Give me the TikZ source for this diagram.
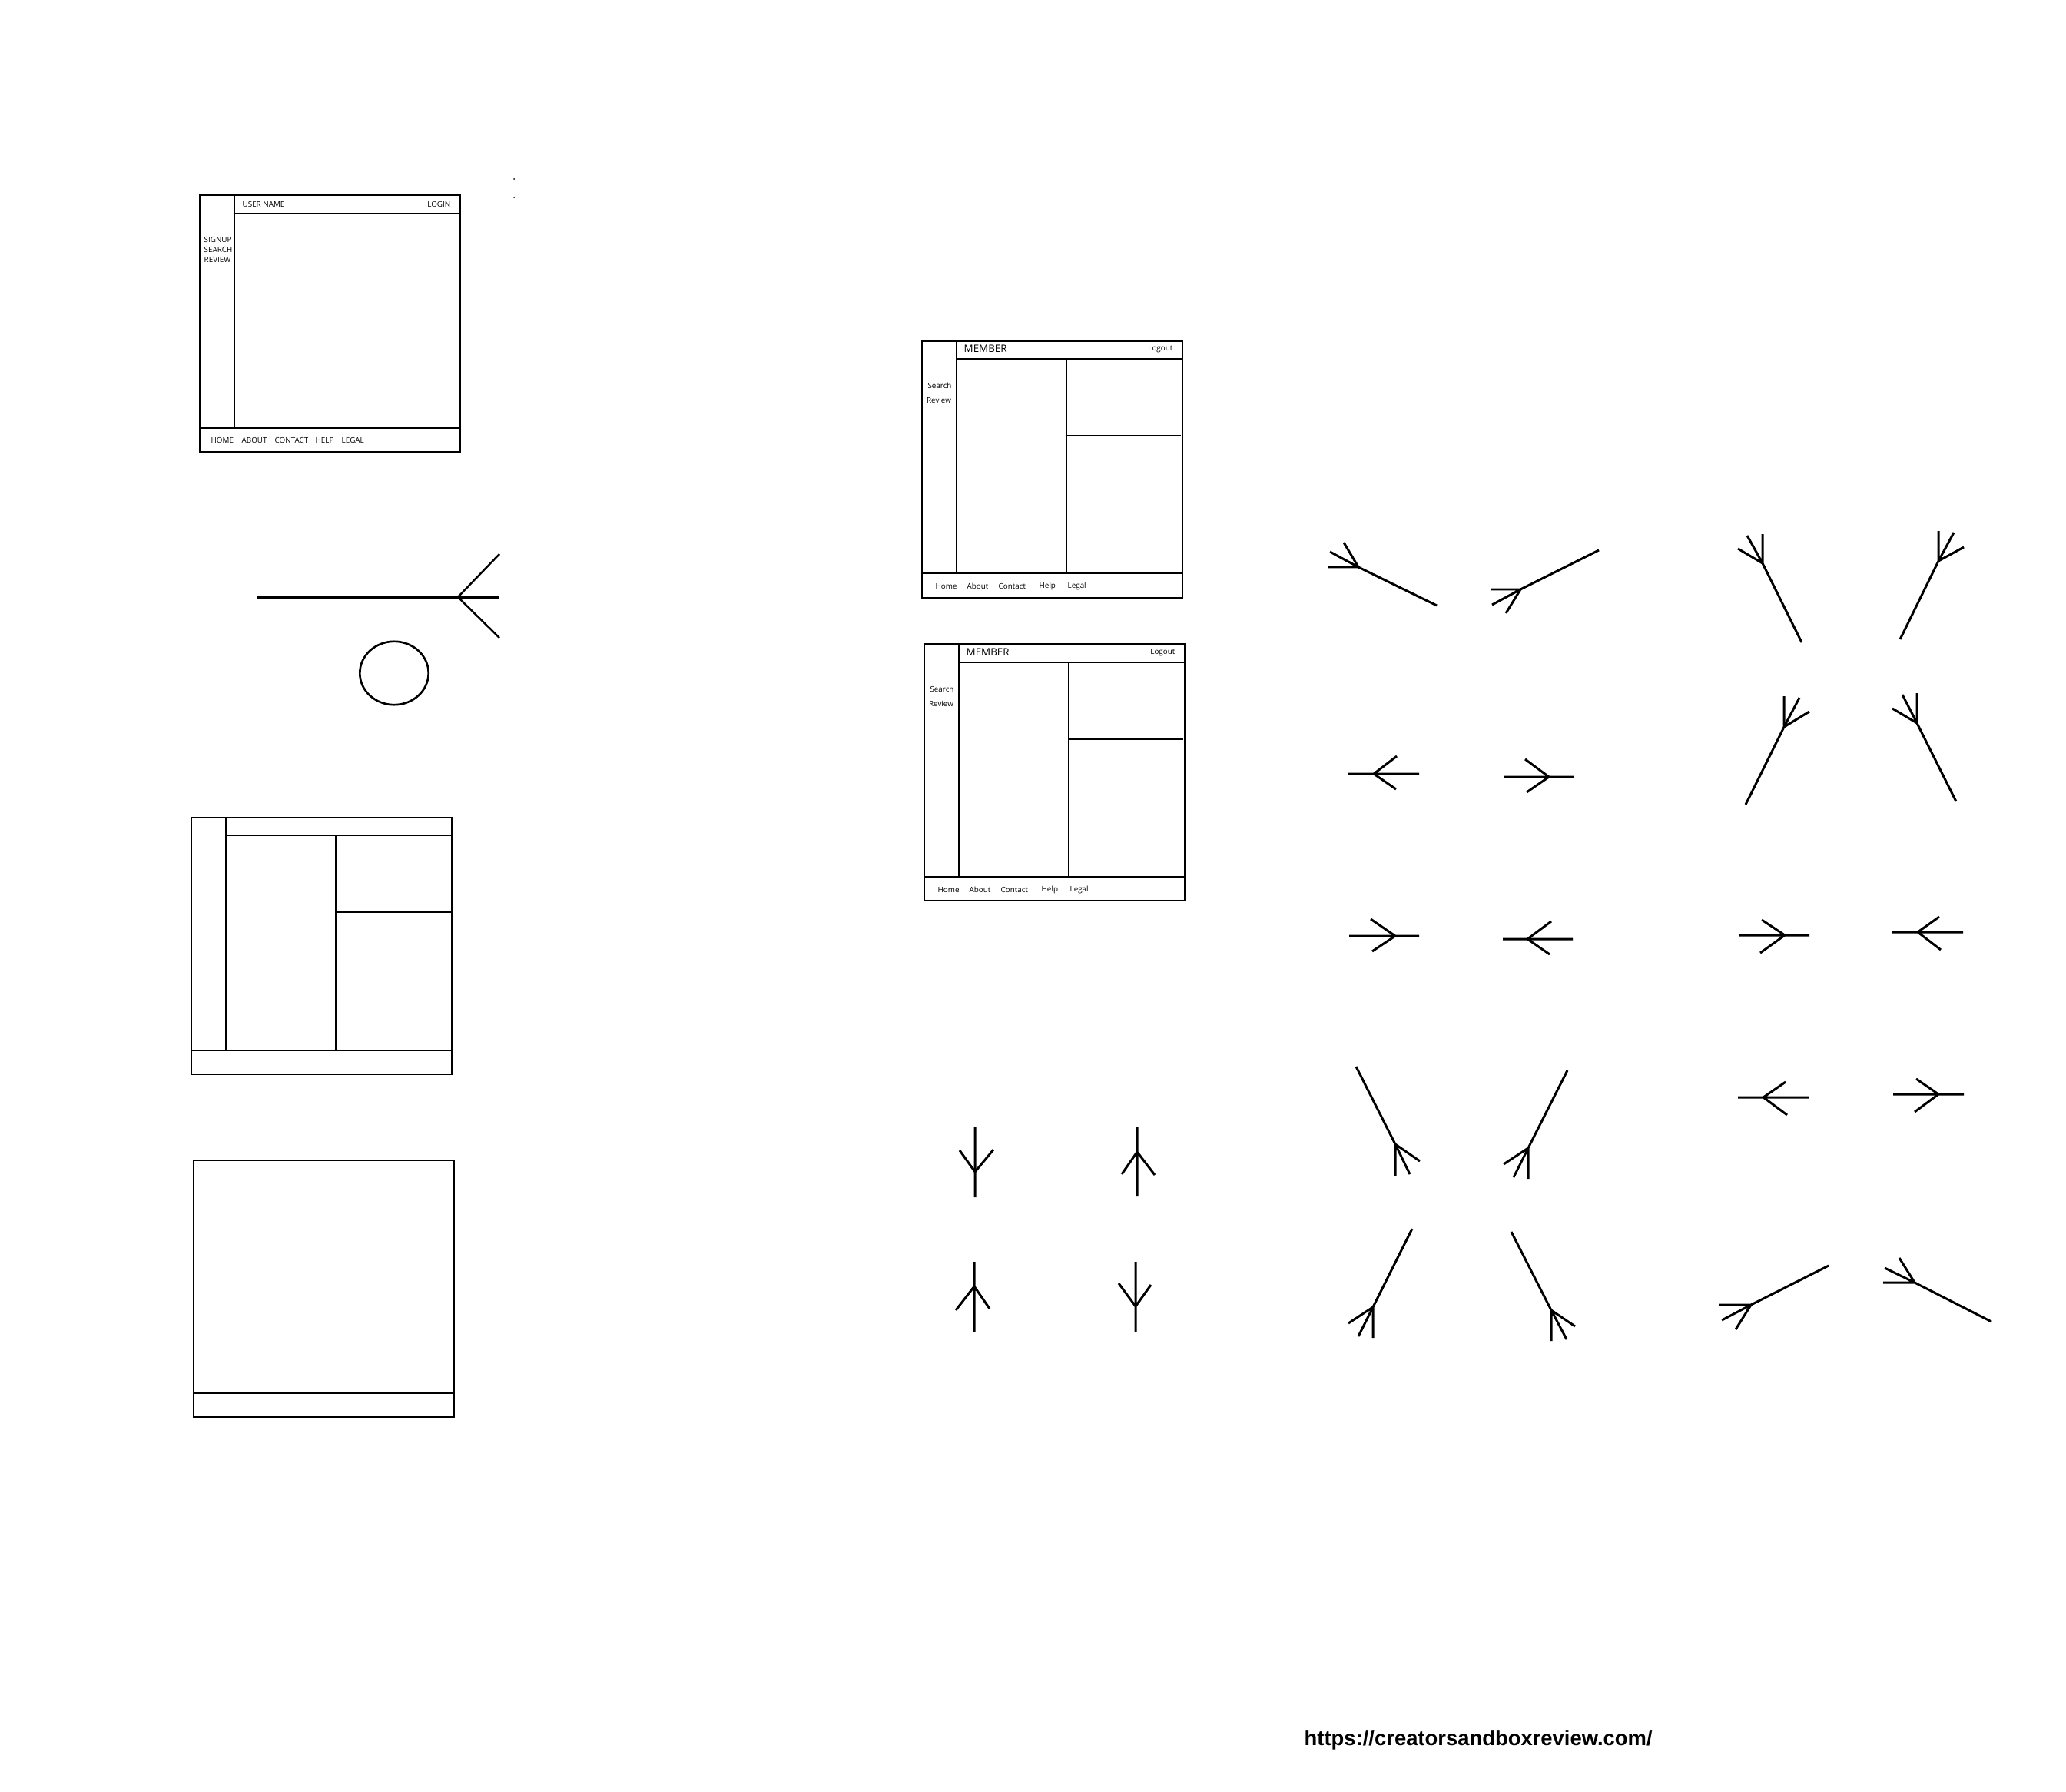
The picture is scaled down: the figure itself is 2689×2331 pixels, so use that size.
\documentclass[tikz,border=0pt]{standalone}
\usepackage{fontspec}
\setmainfont{Open Sans}
\newfontfamily\urlfont{Liberation Sans}

\begin{document}
\begin{tikzpicture}[x=0.1mm, y=-0.1mm,
    frame/.style={line width=0.5pt},
    foot/.style={line width=0.85pt},
    small/.style={font=\fontsize{2.8}{3.3}\selectfont, inner sep=0pt},
    big/.style={font=\fontsize{3.8}{4.5}\selectfont, inner sep=0pt}]
    \useasboundingbox (0,0) rectangle (2689,2331);
    % Login page
    \begin{scope}[shift={(260,254)}]
      \draw[frame] (0,0) rectangle (339,334);
      \draw[frame] (45,0) -- (45,303);
      \draw[frame] (45,24) -- (339,24);
      \draw[frame] (0,303) -- (339,303);
      \node[small, anchor=west] (user) at (55,12) {USER NAME};
      \node[small, anchor=east] (login) at (327,12) {LOGIN};
      \node[small, anchor=west] (signup) at (5,58) {SIGNUP};
      \node[small, anchor=west] (search) at (5,71) {SEARCH};
      \node[small, anchor=west] (review) at (5,84) {REVIEW};
      \node[small, anchor=west] (home) at (14,319) {HOME};
      \node[small, anchor=west] (about) at (54,319) {ABOUT};
      \node[small, anchor=west] (contact) at (97,319) {CONTACT};
      \node[small, anchor=west] (help) at (150,319) {HELP};
      \node[small, anchor=west] (legal) at (184,319) {LEGAL};
    \end{scope}
    \fill (669,233) circle (1);
    \fill (669,257) circle (1);
    % Crow's foot and circle
    \draw[line width=1.1pt] (334,777) -- (650,777);
    \draw[line width=0.7pt] (650,721) -- (596,777) -- (650,830);
    \draw[line width=0.75pt] (513,876) ellipse [x radius=44.7, y radius=41.2];
    % Member page, first copy
    \begin{scope}[shift={(1200,444)}]
      \draw[frame] (0,0) rectangle (339,334);
      \draw[frame] (45,0) -- (45,302);
      \draw[frame] (45,23) -- (339,23);
      \draw[frame] (0,302) -- (339,302);
      \draw[frame] (188,23) -- (188,302);
      \draw[frame] (188,123) -- (337,123);
      \node[big, anchor=west] (memA) at (54,10) {MEMBER};
      \node[small, anchor=east] (logoutA) at (327,10) {Logout};
      \node[small] (searchA) at (23,58) {Search};
      \node[small] (reviewA) at (22,77) {Review};
      \node[small, anchor=west] (homeA) at (17,319) {Home};
      \node[small, anchor=west] (aboutA) at (58,319) {About};
      \node[small, anchor=west] (contactA) at (99,319) {Contact};
      \node[small, anchor=west] (helpA) at (152,319) {Help};
      \node[small, anchor=west] (legalA) at (189,319) {Legal};
    \end{scope}
    % Member page, second copy
    \begin{scope}[shift={(1203,838)}]
      \draw[frame] (0,0) rectangle (339,334);
      \draw[frame] (45,0) -- (45,303);
      \draw[frame] (45,24) -- (339,24);
      \draw[frame] (0,303) -- (339,303);
      \draw[frame] (188,24) -- (188,303);
      \draw[frame] (188,124) -- (337,124);
      \node[big, anchor=west] (memB) at (54,11) {MEMBER};
      \node[small, anchor=east] (logoutB) at (327,11) {Logout};
      \node[small] (searchB) at (23,59) {Search};
      \node[small] (reviewB) at (22,78) {Review};
      \node[small, anchor=west] (homeB) at (17,320) {Home};
      \node[small, anchor=west] (aboutB) at (58,320) {About};
      \node[small, anchor=west] (contactB) at (99,320) {Contact};
      \node[small, anchor=west] (helpB) at (152,320) {Help};
      \node[small, anchor=west] (legalB) at (189,320) {Legal};
    \end{scope}
    % Empty layouts
    \begin{scope}[shift={(249,1064)}]
      \draw[frame] (0,0) rectangle (339,334);
      \draw[frame] (45,0) -- (45,303);
      \draw[frame] (45,23) -- (339,23);
      \draw[frame] (0,303) -- (339,303);
      \draw[frame] (188,23) -- (188,303);
      \draw[frame] (188,123) -- (339,123);
    \end{scope}
    \begin{scope}[shift={(252,1510)}]
      \draw[frame] (0,0) rectangle (339,334);
      \draw[frame] (0,303) -- (339,303);
    \end{scope}
    % Vertical feet
    \draw[foot] (1269,1467) -- (1269,1558) (1249,1497) -- (1269,1525) -- (1293,1496);
    \draw[foot] (1480,1466) -- (1480,1557) (1460,1528) -- (1480,1499) -- (1503,1529);
    \draw[foot] (1268,1642) -- (1268,1733) (1244,1705) -- (1268,1674) -- (1288,1703);
    \draw[foot] (1478,1642) -- (1478,1733) (1456,1670) -- (1478,1700) -- (1498,1672);
    % Horizontal feet
    \draw[foot] (1755,1007) -- (1847,1007) (1818,984) -- (1788,1007) -- (1817,1027);
    \draw[foot] (1957,1011) -- (2048,1011) (1985,988) -- (2016,1011) -- (1987,1031);
    \draw[foot] (1756,1218) -- (1847,1218) (1784,1196) -- (1816,1218) -- (1786,1238);
    \draw[foot] (1956,1222) -- (2047,1222) (2019,1199) -- (1988,1222) -- (2017,1242);
    \draw[foot] (2263,1217) -- (2355,1217) (2293,1197) -- (2323,1217) -- (2291,1240);
    \draw[foot] (2463,1213) -- (2555,1213) (2524,1193) -- (2496,1213) -- (2526,1236);
    \draw[foot] (2262,1428) -- (2354,1428) (2324,1408) -- (2295,1428) -- (2326,1451);
    \draw[foot] (2464,1424) -- (2556,1424) (2494,1404) -- (2523,1424) -- (2492,1447);
    % Slanted feet
    \draw[foot] (1870,788) -- (1768,738) -- (1729,738) (1768,738) -- (1731,718) (1768,738) -- (1749,706);
    \draw[foot] (2081,716) -- (1979,767) -- (1940,767) (1979,767) -- (1942,787) (1979,767) -- (1960,798);
    \draw[foot] (2345,836) -- (2294,733) -- (2294,695) (2294,733) -- (2274,697) (2294,733) -- (2262,714);
    \draw[foot] (2473,832) -- (2523,730) -- (2523,691) (2523,730) -- (2543,693) (2523,730) -- (2556,712);
    \draw[foot] (2272,1047) -- (2322,946) -- (2322,906) (2322,946) -- (2342,908) (2322,946) -- (2355,926);
    \draw[foot] (2546,1043) -- (2495,941) -- (2495,902) (2495,941) -- (2476,904) (2495,941) -- (2463,922);
    \draw[foot] (1765,1388) -- (1816,1489) -- (1816,1530) (1816,1489) -- (1835,1528) (1816,1489) -- (1848,1511);
    \draw[foot] (2040,1393) -- (1989,1494) -- (1989,1534) (1989,1494) -- (1970,1532) (1989,1494) -- (1957,1515);
    \draw[foot] (1838,1599) -- (1787,1701) -- (1787,1741) (1787,1701) -- (1768,1739) (1787,1701) -- (1755,1722);
    \draw[foot] (1967,1603) -- (2019,1705) -- (2019,1745) (2019,1705) -- (2039,1743) (2019,1705) -- (2050,1726);
    \draw[foot] (2380,1647) -- (2279,1698) -- (2238,1698) (2279,1698) -- (2241,1718) (2279,1698) -- (2259,1730);
    \draw[foot] (2592,1720) -- (2492,1669) -- (2451,1669) (2492,1669) -- (2453,1650) (2492,1669) -- (2472,1637);
    % Site address
    \node[font=\urlfont\bfseries\fontsize{7.8}{9}\selectfont, inner sep=0pt, anchor=base west] (site) at (1697,2271) {https://creatorsandboxreview.com/};
  \end{tikzpicture}
\end{document}
